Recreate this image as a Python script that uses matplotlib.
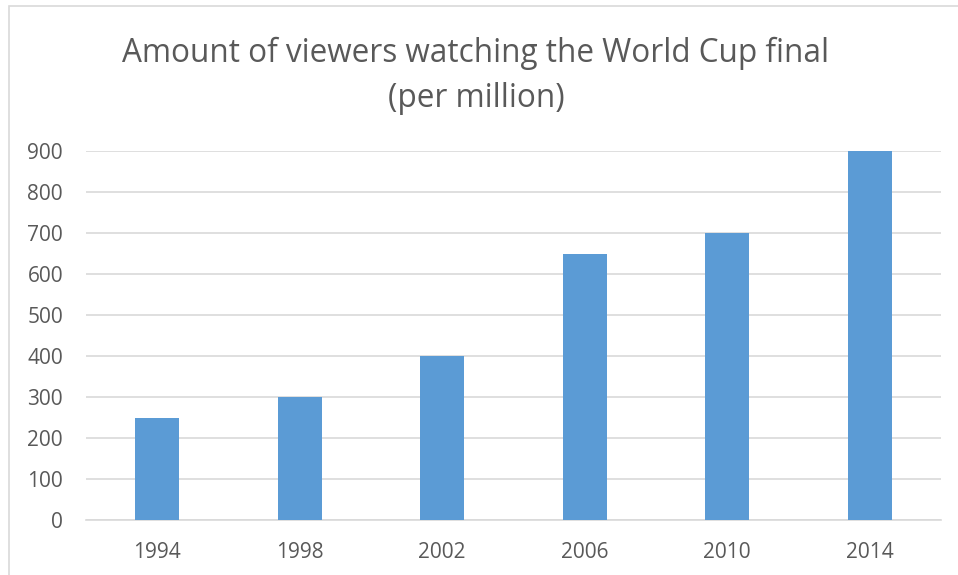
import matplotlib
matplotlib.use("Agg")
import matplotlib.pyplot as plt
from matplotlib.patches import Rectangle

years = ["1994", "1998", "2002", "2006", "2010", "2014"]
viewers = [250, 300, 400, 650, 700, 900]
yticks = [0, 100, 200, 300, 400, 500, 600, 700, 800, 900]

W, H = 958, 575
fig = plt.figure(figsize=(W / 100, H / 100), dpi=100)
plt.rcParams['font.family'] = ['Open Sans', 'DejaVu Sans']

# outer chart border (cropped on right/bottom)
fig.patches.append(Rectangle((9 / W, -0.1), 1.2, 1 - 6 / H + 0.1, transform=fig.transFigure,
                             fill=False, edgecolor='#d9d9d9', linewidth=1.2))

ax = fig.add_axes([86 / W, 1 - 520 / H, (941 - 86) / W, (520 - 151) / H])
x = range(len(years))
ax.bar(x, viewers, width=0.31, color='#5b9bd5', zorder=3)
ax.set_xlim(-0.5, len(years) - 0.5)
ax.set_ylim(0, 900)
ax.set_yticks(yticks)
ax.set_xticks(list(x))
ax.set_xticklabels(years)
ax.grid(axis='y', color='#d9d9d9', linewidth=1.2, zorder=0)
for s in ['top', 'right', 'left']:
    ax.spines[s].set_visible(False)
ax.spines['bottom'].set_color('#d9d9d9')
ax.spines['bottom'].set_linewidth(1.2)
ax.tick_params(axis='both', length=0, colors='#595959', labelsize=15)
ax.tick_params(axis='y', pad=16.5)
ax.tick_params(axis='x', pad=16)

fig.text((123 + 829) / 2 / W, 1 - 76 / H, "Amount of viewers watching the World Cup final\n(per million)",
         ha='center', va='center', fontsize=22.7, color='#595959', linespacing=1.5)

fig.savefig("out.png", dpi=100)
